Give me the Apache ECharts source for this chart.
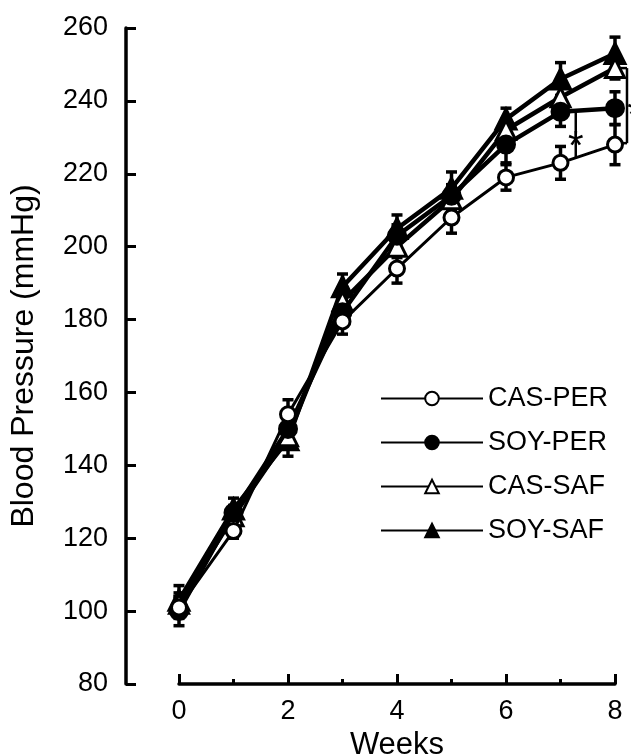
<!DOCTYPE html>
<html>
<head>
<meta charset="utf-8">
<script src="https://cdn.jsdelivr.net/npm/echarts@6/dist/echarts.min.js"></script>
<style>
  html, body { margin: 0; padding: 0; background: #fff; }
  #chart { width: 631px; height: 755px; }
</style>
</head>
<body>
<div id="chart"></div>
<script>
const weeks = [0, 1, 2, 3, 4, 5, 6, 7, 8];
const seriesNames = ['CAS-PER', 'SOY-PER', 'CAS-SAF', 'SOY-SAF'];
const casPer = [101, 122, 154, 179.5, 194, 208, 219, 223, 228];
const soyPer = [100, 127, 150, 182, 203, 214, 228, 237, 238];
const casSaf = [102, 126, 148, 185, 200, 213, 232, 241, 249];
const soySaf = [103, 128, 147, 189, 205, 216, 235, 246, 253];
const casPerErr = [3, 2, 4, 3.5, 4, 4.3, 3.5, 4.5, 5.5];
const soyPerErr = [4, 2, 3, 3, 3, 3, 5, 4, 4.5];
const casSafErr = [3, 2, 3, 3, 3, 3, 3, 3, 3];
const soySafErr = [4, 3, 4.5, 3.5, 3.7, 4.5, 3, 4.5, 4.5];
const yTicks = [80, 100, 120, 140, 160, 180, 200, 220, 240, 260];
const xTicks = [0, 2, 4, 6, 8];
// significance annotations (data space)
const annotX = [7.28, 8.22];
const annotTop = [237.3, 249];
const annotBottom = [224.4, 228.4];
const annotStarY = [229.8, 238.3];

const FONT = '"Liberation Sans", Arial, Helvetica, sans-serif';
const chart = echarts.init(document.getElementById('chart'), null, { renderer: 'canvas' });

const styles = {
  'CAS-PER': { symbol: 'circle', size: 15, fill: '#fff', lw: 3 },
  'SOY-PER': { symbol: 'circle', size: 17, fill: '#000', lw: 4.5 },
  'CAS-SAF': { symbol: 'triangle', size: 19, fill: '#fff', lw: 4.5 },
  'SOY-SAF': { symbol: 'triangle', size: 20, fill: '#000', lw: 4.5 }
};
const means = { 'CAS-PER': casPer, 'SOY-PER': soyPer, 'CAS-SAF': casSaf, 'SOY-SAF': soySaf };
const errs = { 'CAS-PER': casPerErr, 'SOY-PER': soyPerErr, 'CAS-SAF': casSafErr, 'SOY-SAF': soySafErr };

function errRender(params, api) {
  const x = api.value(0), lo = api.value(1), hi = api.value(2);
  const p1 = api.coord([x, hi]);
  const p2 = api.coord([x, lo]);
  const w = 5.5;
  const st = { stroke: '#000', lineWidth: 3.5 };
  return {
    type: 'group',
    children: [
      { type: 'line', shape: { x1: p1[0], y1: p1[1], x2: p2[0], y2: p2[1] }, style: st },
      { type: 'line', shape: { x1: p1[0] - w, y1: p1[1], x2: p1[0] + w, y2: p1[1] }, style: st },
      { type: 'line', shape: { x1: p2[0] - w, y1: p2[1], x2: p2[0] + w, y2: p2[1] }, style: st }
    ]
  };
}

const drawOrder = ['SOY-SAF', 'CAS-SAF', 'SOY-PER', 'CAS-PER'];
const series = [];
drawOrder.forEach(function (name) {
  series.push({
    name: name + ' error',
    type: 'custom',
    renderItem: errRender,
    encode: { x: 0, y: [1, 2] },
    data: weeks.map(function (w, i) { return [w, means[name][i] - errs[name][i], means[name][i] + errs[name][i]]; }),
    z: 1,
    silent: true
  });
});
drawOrder.forEach(function (name, k) {
  const s = styles[name];
  series.push({
    name: name,
    type: 'line',
    data: weeks.map(function (w, i) { return [w, means[name][i]]; }),
    symbol: s.symbol,
    symbolSize: s.size,
    showAllSymbol: true,
    lineStyle: { color: '#000', width: s.lw },
    itemStyle: { color: s.fill, borderColor: '#000', borderWidth: 3, opacity: 1 },
    z: 2 + k
  });
});

chart.setOption({
  animation: false,
  backgroundColor: '#fff',
  textStyle: { fontFamily: FONT, color: '#000' },
  grid: { left: 179, right: 16, top: 28, bottom: 71, containLabel: false, outerBoundsMode: 'none' },
  legend: {
    data: seriesNames,
    orient: 'vertical',
    left: 375,
    top: 380,
    itemWidth: 102,
    itemHeight: 17,
    itemGap: 17,
    lineStyle: { width: 2, color: '#000' },
    textStyle: { fontFamily: FONT, fontSize: 27, color: '#000', padding: [0, 0, 0, 0] }
  },
  xAxis: {
    type: 'value',
    min: 0, max: 8, interval: 2,
    name: 'Weeks',
    nameLocation: 'middle',
    nameGap: 42,
    nameTextStyle: { fontFamily: FONT, fontSize: 31, color: '#000' },
    axisLine: { show: true, onZero: false, lineStyle: { color: '#000', width: 3.5 } },
    axisTick: { show: true, inside: true, length: 10, lineStyle: { color: '#000', width: 3 } },
    minorTick: { show: true, splitNumber: 2, length: 5, lineStyle: { color: '#000', width: 3 } },
    splitLine: { show: false },
    axisLabel: {
      fontFamily: FONT, fontSize: 27, color: '#000', margin: 14,
      formatter: function (v) { return xTicks.indexOf(v) >= 0 ? String(v) : ''; }
    }
  },
  yAxis: {
    type: 'value',
    min: 80, max: 260, interval: 20,
    offset: 53,
    name: 'Blood Pressure (mmHg)',
    nameLocation: 'middle',
    nameGap: 86,
    nameTextStyle: { fontFamily: FONT, fontSize: 32, color: '#000' },
    axisLine: { show: true, onZero: false, lineStyle: { color: '#000', width: 3.5 } },
    axisTick: { show: true, inside: true, length: 10, lineStyle: { color: '#000', width: 3 } },
    splitLine: { show: false },
    axisLabel: {
      fontFamily: FONT, fontSize: 27, color: '#000', margin: 18,
      formatter: function (v) { return yTicks.indexOf(v) >= 0 ? String(v) : ''; }
    }
  },
  series: series
});

// significance brackets and asterisks, positioned through the chart's own scales
const graphics = [];
annotX.forEach(function (x, i) {
  const pTop = chart.convertToPixel({ gridIndex: 0 }, [x, annotTop[i]]);
  const pBot = chart.convertToPixel({ gridIndex: 0 }, [x, annotBottom[i]]);
  const pStar = chart.convertToPixel({ gridIndex: 0 }, [x, annotStarY[i]]);
  graphics.push({ type: 'line', shape: { x1: pTop[0], y1: pTop[1], x2: pBot[0], y2: pBot[1] }, style: { stroke: '#000', lineWidth: 2.5 }, z: 20 });
  if (i === 1) {
    graphics.push({ type: 'line', shape: { x1: pTop[0] - 6, y1: pTop[1], x2: pTop[0], y2: pTop[1] }, style: { stroke: '#000', lineWidth: 2.5 }, z: 20 });
    graphics.push({ type: 'line', shape: { x1: pBot[0] - 6, y1: pBot[1], x2: pBot[0], y2: pBot[1] }, style: { stroke: '#000', lineWidth: 2.5 }, z: 20 });
  }
  graphics.push({
    type: 'text', z: 21,
    x: pStar[0] + (i === 1 ? 8 : 0), y: pStar[1] + 10,
    style: { text: '*', fontFamily: FONT, fontSize: 40, fill: '#000', align: 'center', verticalAlign: 'middle' }
  });
});
chart.setOption({ graphic: graphics });
</script>
</body>
</html>
